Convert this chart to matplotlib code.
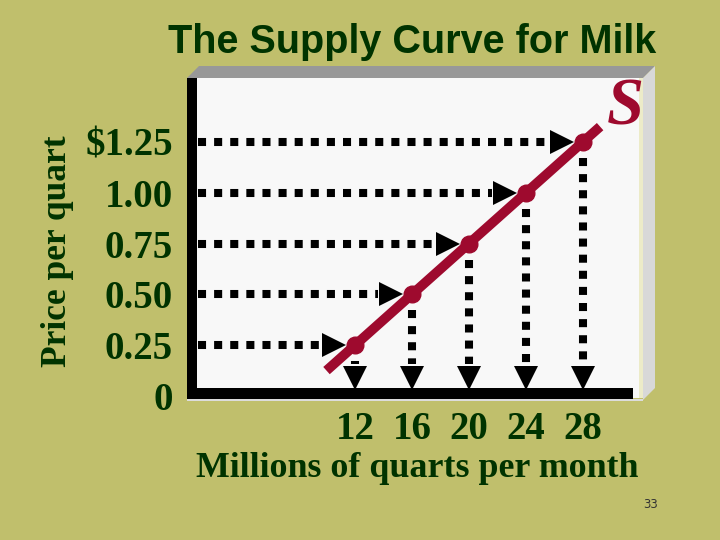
import matplotlib
matplotlib.use("Agg")
import matplotlib.pyplot as plt
from matplotlib.patches import Polygon, Rectangle
import numpy as np

# ---- data ----
quantity = [12, 16, 20, 24, 28]          # millions of quarts per month
price = [0.25, 0.50, 0.75, 1.00, 1.25]   # price per quart
y_ticks = [0, 0.25, 0.50, 0.75, 1.00, 1.25]
y_tick_labels = ["0", "0.25", "0.50", "0.75", "1.00", "\\$1.25"]
x_ticks = [12, 16, 20, 24, 28]
x_tick_labels = ["12", "16", "20", "24", "28"]

BG = "#c0bf6c"
GREEN = "#003300"
RED = "#9e0a2e"
W, H = 720, 540

fig = plt.figure(figsize=(7.2, 5.4), dpi=100, facecolor=BG)

# ---- background decorations in pixel coordinates ----
bg = fig.add_axes([0, 0, 1, 1], zorder=0)
bg.set_xlim(0, W)
bg.set_ylim(H, 0)
bg.axis("off")
bg.add_patch(Rectangle((187, 78), 456, 320, facecolor="#f8f8f8", edgecolor="none"))
bg.add_patch(Polygon([(187, 78), (199, 66), (655, 66), (643, 78)], closed=True,
                     facecolor="#989898", edgecolor="none"))
bg.add_patch(Polygon([(643, 78), (655, 66), (655, 388), (643, 400)], closed=True,
                     facecolor="#d8d8d8", edgecolor="none"))
bg.add_patch(Rectangle((639, 78), 4, 320, facecolor="#ecebc8", edgecolor="none"))
bg.add_patch(Rectangle((187, 399), 456, 2, facecolor="#dcdcdc", edgecolor="none"))
bg.add_patch(Rectangle((187, 78), 10, 321, facecolor="black", edgecolor="none"))
bg.add_patch(Rectangle((187, 388), 446, 11, facecolor="black", edgecolor="none"))

bg.text(412, 53, "The Supply Curve for Milk", ha="center", va="baseline",
        fontsize=28.5, fontweight="bold", family="Liberation Sans", color=GREEN)
bg.text(57, 251, "Price per quart", ha="center", va="center", rotation=90,
        fontsize=25.5, fontweight="bold", family="Liberation Serif", color=GREEN)
bg.text(417, 477, "Millions of quarts per month", ha="center", va="baseline",
        fontsize=25.8, fontweight="bold", family="Liberation Serif", color=GREEN)
bg.text(625, 108, "S", ha="center", va="center", fontsize=48, fontstyle="italic",
        fontweight="bold", family="Liberation Serif", color=RED)
bg.text(651, 504, "33", ha="center", va="center", fontsize=8.5,
        family="DejaVu Sans", color="#333333")

# ---- data axes ----
px_x = 14.25   # pixels per quantity unit
px_y = 203.3   # pixels per $1.00
ax = fig.add_axes([184 / W, 144 / H, 456 / W, 317 / H], zorder=1)
ax.patch.set_alpha(0)
for s in ax.spines.values():
    s.set_visible(False)
ax.set_xlim(0, 456 / px_x)
ax.set_ylim(0, 317 / px_y)
ax.set_xticks(x_ticks)
ax.set_xticklabels(x_tick_labels)
ax.set_yticks(y_ticks)
ax.set_yticklabels(y_tick_labels)
ax.tick_params(length=0, labelsize=28, labelcolor=GREEN)
ax.tick_params(axis="y", pad=8)
ax.tick_params(axis="x", pad=11)
for lab in ax.get_xticklabels() + ax.get_yticklabels():
    lab.set_family("Liberation Serif")
    lab.set_fontweight("bold")

dot_kw = dict(color="black", lw=5.8, linestyle=(0, (1, 1)),
              dash_capstyle="butt", solid_capstyle="butt")
for q, p in zip(quantity, price):
    # horizontal dotted arrow from price axis to the point
    ax.plot([14 / px_x, q - 34 / px_x], [p, p], **dot_kw, zorder=2)
    ax.plot([q - 21.5 / px_x], [p], marker=">", ms=17, color="black",
            mec="black", mew=0, zorder=3)
    # vertical dotted arrow from the point down to quantity axis
    ax.plot([q, q], [p - 16 / px_y, 32 / px_y], **dot_kw, zorder=2)
    ax.plot([q], [18.5 / px_y], marker="v", ms=17, color="black",
            mec="black", mew=0, zorder=3)

# supply curve (straight line extended a little past the end points)
slope, intercept = np.polyfit(quantity, price, 1)
x_ext = np.array([quantity[0] - 2.0, quantity[-1] + 1.2])
ax.plot(x_ext, slope * x_ext + intercept, color=RED, lw=7,
        solid_capstyle="butt", zorder=4)
ax.plot(quantity, price, "o", color=RED, ms=12, zorder=5)

fig.savefig("out.png", dpi=100, facecolor=BG)
